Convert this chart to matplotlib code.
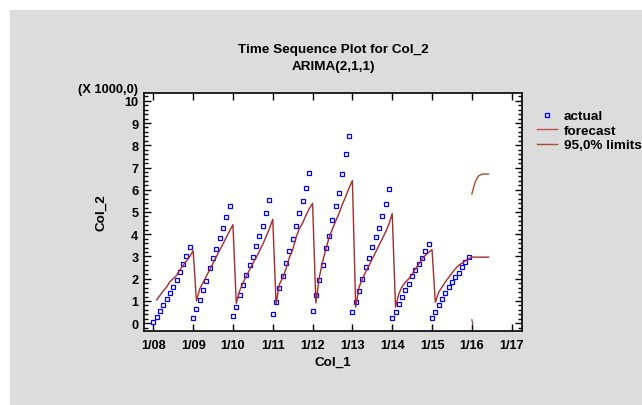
import matplotlib
matplotlib.use("Agg")
import matplotlib.pyplot as plt
import matplotlib.ticker as mticker
import matplotlib.patches as mpatches
from matplotlib.lines import Line2D
import numpy as np

plt.rcParams['font.family'] = ['Liberation Sans', 'DejaVu Sans']
plt.rcParams['font.weight'] = 'bold'

# Col_2 in thousands, monthly Jan 2008 .. Dec 2015
actual = [
    0.06, 0.28, 0.55, 0.82, 1.09, 1.36, 1.63, 1.95, 2.32, 2.66, 3.01, 3.41,
    0.24, 0.64, 1.05, 1.50, 1.90, 2.46, 2.95, 3.35, 3.82, 4.27, 4.76, 5.25,
    0.33, 0.72, 1.29, 1.72, 2.19, 2.63, 2.99, 3.49, 3.91, 4.39, 4.94, 5.52,
    0.42, 0.96, 1.59, 2.14, 2.69, 3.26, 3.77, 4.36, 4.94, 5.48, 6.06, 6.74,
    0.54, 1.27, 1.95, 2.63, 3.37, 3.94, 4.63, 5.28, 5.87, 6.69, 7.60, 8.41,
    0.51, 0.96, 1.45, 1.99, 2.54, 2.95, 3.44, 3.86, 4.27, 4.81, 5.34, 6.02,
    0.24, 0.51, 0.87, 1.18, 1.50, 1.78, 2.14, 2.37, 2.68, 2.95, 3.23, 3.55,
    0.24, 0.51, 0.82, 1.09, 1.36, 1.65, 1.87, 2.10, 2.28, 2.54, 2.77, 2.99,
]

# one-step forecasts Feb 2008 .. Dec 2015, then Jan .. Jun 2016
forecast = [
    1.05, 1.25, 1.45, 1.62, 1.87, 2.00, 2.15, 2.40, 2.60, 2.80, 3.00,
    3.26, 1.00, 1.54, 1.83, 2.12, 2.41, 2.70, 2.99, 3.28, 3.57, 3.86, 4.15,
    4.43, 0.90, 1.45, 1.80, 2.10, 2.40, 2.70, 2.95, 3.25, 3.55, 3.90, 4.25,
    4.67, 0.87, 1.75, 2.05, 2.45, 2.95, 3.30, 3.85, 4.25, 4.50, 4.85, 5.15,
    5.39, 0.91, 2.05, 2.75, 3.34, 3.85, 4.25, 4.60, 4.95, 5.35, 5.70, 6.08,
    6.41, 0.72, 1.62, 1.99, 2.30, 2.59, 2.90, 3.19, 3.50, 3.79, 4.10, 4.45,
    4.93, 0.72, 1.32, 1.65, 1.85, 2.00, 2.20, 2.45, 2.65, 2.89, 3.05, 3.19,
    3.31, 0.94, 1.39, 1.62, 1.85, 2.05, 2.25, 2.44, 2.60, 2.70, 2.80, 2.90,
    2.98, 2.97, 2.97, 2.97, 2.97, 2.97,
]

upper = [5.81, 6.35, 6.62, 6.70, 6.71, 6.71]
lower = [0.15, -0.41, -0.68, -0.76, -0.77, -0.77]

year_ticks = list(range(2008, 2018))
year_labels = ['1/%02d' % (y % 100) for y in year_ticks]

t_act = 2008 + np.arange(len(actual)) / 12.0
t_fc = 2008 + (np.arange(len(forecast)) + 1) / 12.0
t_lim = 2016 + np.arange(len(upper)) / 12.0

fig = plt.figure(figsize=(6.42, 4.06), dpi=100)
fig.patch.set_facecolor('white')
fig.patches.append(mpatches.Rectangle((10 / 642, 0), 1, 395 / 406,
                                      transform=fig.transFigure,
                                      facecolor='#dcdcdc', edgecolor='none', zorder=-10))

ax = fig.add_axes([144 / 642, 74 / 406, 378 / 642, 238 / 406])
ax.set_facecolor('white')

fc_col = '#a82a2a'
lim_col = '#a0522d'

ax.plot(t_act, actual, linestyle='none', marker='s', markersize=3.2,
        markerfacecolor='none', markeredgecolor='#0000ff', markeredgewidth=0.9)
ax.plot(t_fc, forecast, color=fc_col, linewidth=1.0)
ax.plot(t_lim, upper, color=lim_col, linewidth=1.0)
low_line, = ax.plot(t_lim, lower, color=lim_col, linewidth=1.0)
# limits are only drawn above zero
low_line.set_clip_path(mpatches.Rectangle((2007, -0.03), 20, 20, transform=ax.transData))

ax.set_xlim(2007.766, 2017.26)
ax.set_ylim(-0.35, 10.35)
ax.set_xticks(year_ticks)
ax.set_xticklabels(year_labels)
ax.set_yticks(range(0, 11))
ax.yaxis.set_minor_locator(mticker.MultipleLocator(0.2))
ax.tick_params(which='both', direction='in', top=True, right=True, labelsize=9.2, width=1)
ax.tick_params(which='major', length=5)
ax.tick_params(which='minor', length=3)
ax.tick_params(axis='x', pad=6)
ax.tick_params(axis='y', pad=4)
for lab in ax.get_xticklabels() + ax.get_yticklabels():
    lab.set_fontweight('bold')
for s in ax.spines.values():
    s.set_linewidth(1.2)

ax.set_xlabel('Col_1', fontsize=9.7, fontweight='bold', labelpad=3)
ax.set_ylabel('Col_2', fontsize=9.7, fontweight='bold', labelpad=12)

fig.text(333 / 642, 1 - 50 / 406, 'Time Sequence Plot for Col_2', ha='center', va='center',
         fontsize=9.7, fontweight='bold')
fig.text(333 / 642, 1 - 67 / 406, 'ARIMA(2,1,1)', ha='center', va='center',
         fontsize=9.7, fontweight='bold')
fig.text(138 / 642, 1 - 90 / 406, '(X 1000,0)', ha='right', va='center',
         fontsize=9.3, fontweight='bold')

handles = [
    Line2D([], [], linestyle='none', marker='s', markersize=3.2, markerfacecolor='none',
           markeredgecolor='#0000ff', markeredgewidth=0.9),
    Line2D([], [], color='#c05050', linewidth=1.0),
    Line2D([], [], color=lim_col, linewidth=1.0),
]
leg = ax.legend(handles, ['actual', 'forecast', '95,0% limits'], loc='upper left',
                bbox_to_anchor=(537 / 642, 1 - 111 / 406), bbox_transform=fig.transFigure,
                frameon=False, fontsize=9.7, handlelength=1.5, handletextpad=0.5,
                labelspacing=0.15, borderpad=0, borderaxespad=0)
for t in leg.get_texts():
    t.set_fontweight('bold')

fig.savefig('out.png', dpi=100)
